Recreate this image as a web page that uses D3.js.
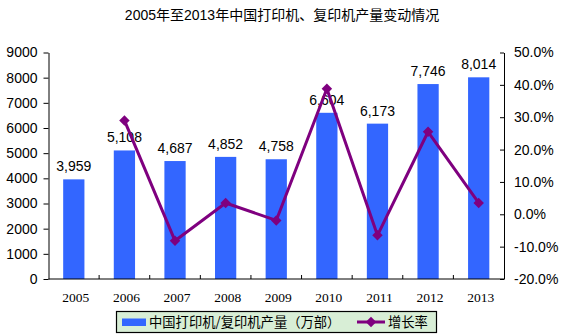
<!DOCTYPE html>
<html>
<head>
<meta charset="utf-8">
<script src="https://cdn.jsdelivr.net/npm/d3@7"></script>
<style>
  html, body { margin: 0; padding: 0; background: #fff; }
  svg { display: block; }
</style>
</head>
<body>
<svg id="chart" width="562" height="336"></svg>
<script>
// Printer / copier output in China, 2005-2013
const years = ["2005", "2006", "2007", "2008", "2009", "2010", "2011", "2012", "2013"];
const output = [3959, 5108, 4687, 4852, 4758, 6604, 6173, 7746, 8014];           // 万部
const growth = [null, 29.0, -8.2, 3.5, -1.9, 38.8, -6.5, 25.5, 3.5];             // %
const leftTicks = [0, 1000, 2000, 3000, 4000, 5000, 6000, 7000, 8000, 9000];
const rightTicks = [-20, -10, 0, 10, 20, 30, 40, 50];

const titleText = "2005年至2013年中国打印机、复印机产量变动情况";
const barName = "中国打印机/复印机产量（万部）";
const lineName = "增长率";

const sansFont = "'Liberation Sans', Arial, 'Noto Sans CJK SC', sans-serif";
const cjkFont = "'Liberation Sans', 'Noto Sans CJK SC', sans-serif";
const barColor = "#3366ff";
const lineColor = "#7f007f";

const svg = d3.select("#chart");
const plot = { left: 48.5, right: 504, top: 52.5, bottom: 279 };

const x = d3.scaleBand().domain(years).range([plot.left, plot.right]).paddingInner(0.58).paddingOuter(0.29);
const yL = d3.scaleLinear().domain([0, 9000]).range([plot.bottom, plot.top]);
const yR = d3.scaleLinear().domain([-20, 50]).range([plot.bottom, plot.top]);

// title
svg.append("text")
  .attr("x", 282).attr("y", 20)
  .attr("text-anchor", "middle")
  .attr("font-family", cjkFont).attr("font-size", 14)
  .attr("fill", "#000")
  .text(titleText);

// bars
svg.append("g").selectAll("rect")
  .data(output)
  .join("rect")
  .attr("x", (d, i) => x(years[i]))
  .attr("y", d => yL(d))
  .attr("width", x.bandwidth())
  .attr("height", d => plot.bottom - yL(d))
  .attr("fill", barColor);

// value labels above bars
svg.append("g").selectAll("text")
  .data(output)
  .join("text")
  .attr("x", (d, i) => x(years[i]) + x.bandwidth() / 2)
  .attr("y", d => yL(d) - 8)
  .attr("text-anchor", "middle")
  .attr("font-family", sansFont).attr("font-size", 14)
  .attr("fill", "#000")
  .text(d => d3.format(",")(d));

// left axis
const gL = svg.append("g")
  .attr("transform", `translate(${plot.left},0)`)
  .call(d3.axisLeft(yL).tickValues(leftTicks).tickFormat(d3.format("d")).tickSizeInner(5).tickSizeOuter(0).tickPadding(6));
gL.select(".domain").attr("stroke", "#000");
gL.selectAll("text").attr("font-family", sansFont).attr("font-size", 14).attr("fill", "#000");

// right axis (ticks point inward)
const gR = svg.append("g")
  .attr("transform", `translate(${plot.right},0)`)
  .call(d3.axisRight(yR).tickValues(rightTicks).tickFormat(d => d.toFixed(1) + "%").tickSizeInner(-4).tickSizeOuter(0).tickPadding(10));
gR.select(".domain").attr("stroke", "#000");
gR.selectAll("text").attr("font-family", sansFont).attr("font-size", 14).attr("fill", "#000");

// bottom axis: baseline with inward separators between categories
svg.append("line")
  .attr("x1", plot.left).attr("x2", plot.right)
  .attr("y1", plot.bottom).attr("y2", plot.bottom)
  .attr("stroke", "#000");
const step = x.step();
svg.append("g").selectAll("line")
  .data(years.slice(1))
  .join("line")
  .attr("x1", d => x(d) - (step - x.bandwidth()) / 2)
  .attr("x2", d => x(d) - (step - x.bandwidth()) / 2)
  .attr("y1", plot.bottom).attr("y2", plot.bottom - 4)
  .attr("stroke", "#000");
svg.append("g").selectAll("text")
  .data(years)
  .join("text")
  .attr("x", d => x(d) + x.bandwidth() / 2 + 2)
  .attr("y", 302)
  .attr("text-anchor", "middle")
  .attr("font-family", "'Liberation Serif', 'Times New Roman', serif").attr("font-size", 13.5)
  .attr("fill", "#000")
  .text(d => d);

// growth-rate line with diamond markers
const pts = growth.map((g, i) => ({ year: years[i], g })).filter(p => p.g !== null);
const line = d3.line()
  .x(p => x(p.year) + x.bandwidth() / 2)
  .y(p => yR(p.g));
svg.append("path")
  .datum(pts)
  .attr("d", line)
  .attr("fill", "none")
  .attr("stroke", lineColor)
  .attr("stroke-width", 3)
  .attr("stroke-linejoin", "round");
const diamond = d3.symbol().type(d3.symbolDiamond2).size(70);
svg.append("g").selectAll("path")
  .data(pts)
  .join("path")
  .attr("transform", p => `translate(${x(p.year) + x.bandwidth() / 2},${yR(p.g)})`)
  .attr("d", diamond)
  .attr("fill", lineColor);

// legend
const lg = svg.append("g");
lg.append("rect")
  .attr("x", 116.5).attr("y", 311.5).attr("width", 320).attr("height", 21)
  .attr("fill", "#d8eed6").attr("stroke", "#000").attr("stroke-width", 1.2);
lg.append("rect")
  .attr("x", 122).attr("y", 318.5).attr("width", 24).attr("height", 7.5)
  .attr("fill", barColor);
lg.append("text")
  .attr("x", 149).attr("y", 327)
  .attr("font-family", "'Noto Sans CJK SC', sans-serif").attr("font-size", 13.3)
  .attr("fill", "#000")
  .text(barName);
lg.append("line")
  .attr("x1", 357).attr("x2", 385).attr("y1", 322).attr("y2", 322)
  .attr("stroke", lineColor).attr("stroke-width", 3);
lg.append("path")
  .attr("transform", "translate(371,322)")
  .attr("d", diamond)
  .attr("fill", lineColor);
lg.append("text")
  .attr("x", 388).attr("y", 327)
  .attr("font-family", "'Noto Sans CJK SC', sans-serif").attr("font-size", 13.3)
  .attr("fill", "#000")
  .text(lineName);
</script>
</body>
</html>
